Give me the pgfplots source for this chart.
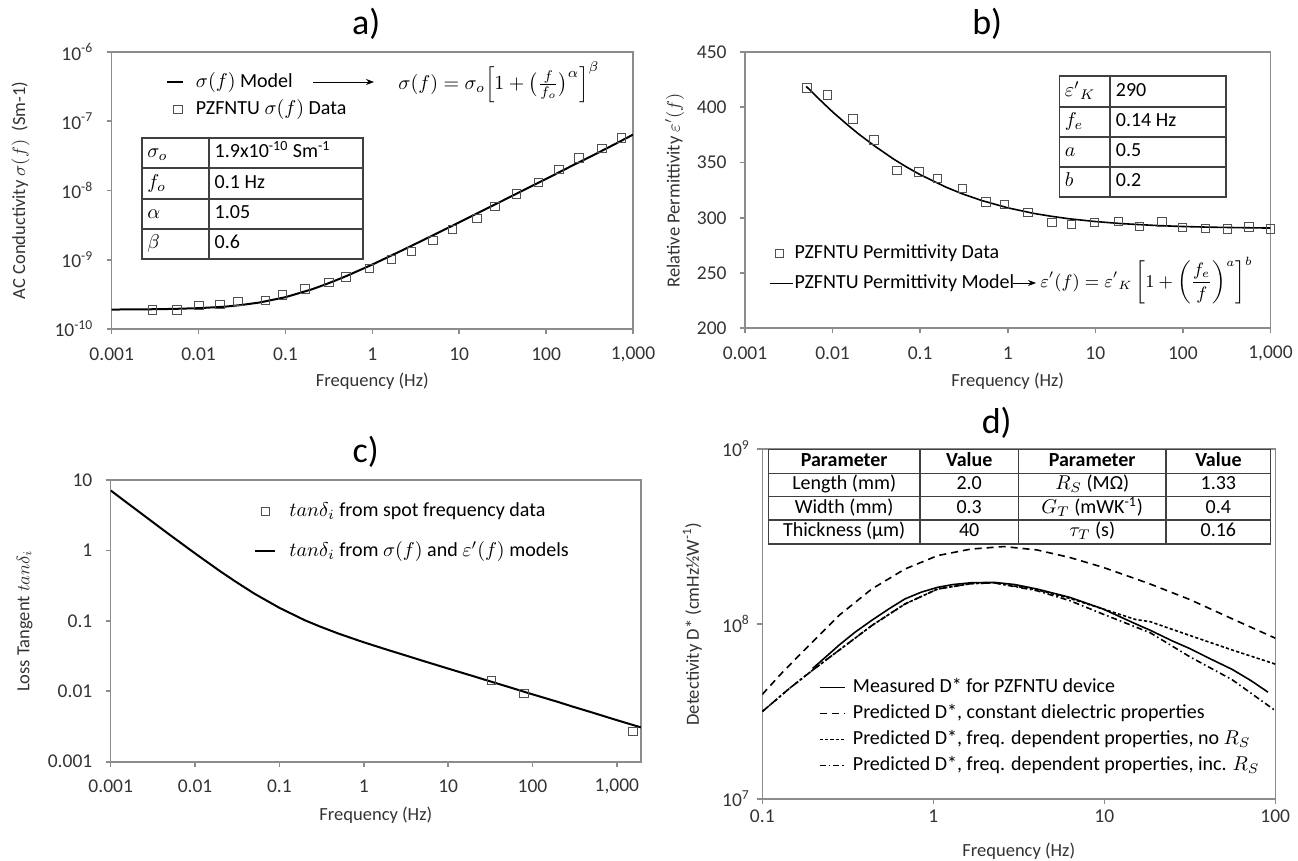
\documentclass[border=0pt]{standalone}
\usepackage{amsmath}
\usepackage{fontspec}
\setmainfont{Carlito}
\usepackage{pgfplots}
\pgfplotsset{compat=1.18}
\usetikzlibrary{arrows.meta}
\definecolor{axisgray}{HTML}{8C8C8C}
\definecolor{txt}{HTML}{333333}
\definecolor{tabline}{HTML}{404040}
\definecolor{mk}{HTML}{505050}
\pgfplotsset{
 excel/.style={
   scale only axis,
   axis line style={draw=axisgray, line width=0.8pt},
   tick style={draw=axisgray, line width=0.8pt},
   major tick length=2.5pt,
   tick align=outside,
   xtick pos=left, ytick pos=left,
   xminorticks=false, yminorticks=false,
   /pgf/number format/assume math mode=true,
   tick label style={font=\fontsize{9.75}{11}\selectfont, text=txt},
   label style={font=\fontsize{9.25}{11}\selectfont, text=txt},
   every axis title/.style={anchor=center, font=\fontsize{18}{20}\selectfont},
   xlabel style={anchor=center},
   ylabel style={anchor=center},
   legend style={draw=none, fill=none, inner sep=0pt, font=\fontsize{10}{12}\selectfont,
     nodes={inner sep=0pt, text height=7pt, text depth=2pt}, anchor=north west},
   legend cell align=left,
 },
 datamark/.style={only marks, mark=square, mark size=2.1pt, mark options={draw=mk, fill=none, line width=0.5pt, solid}},
 lineleg/.style 2 args={legend image code/.code={\draw[##1] (0pt,0pt) -- (#1,0pt); \path[draw=none,fill=none] (0pt,0pt) -- (#2,0pt);}},
 sqleg/.style 2 args={legend image code/.code={\path[draw=none,fill=none] (0pt,0pt) -- (#2,0pt); \draw[##1] plot coordinates {(#1,0pt)};}},
}
\begin{document}
\begin{tikzpicture}
\path[use as bounding box] (0pt,0pt) rectangle (649pt,-430.5pt);

% ---------------- a)
\begin{axis}[excel, at={(55.85pt,-164.5pt)}, anchor=south west, width=260.65pt, height=138.5pt,
 xticklabel style={anchor=center, yshift=-10pt},
 yticklabel style={anchor=east, inner sep=0pt, xshift=-6.5pt},
 xmode=log, ymode=log, xmin=0.001, xmax=1000, ymin=1e-10, ymax=1e-6,
 xtick={0.001,0.01,0.1,1,10,100,1000}, xticklabels={0.001,0.01,0.1,1,10,100,{1,000}},
 ytick={1e-10,1e-9,1e-8,1e-7,1e-6},
 yticklabels={10\textsuperscript{-10},10\textsuperscript{-9},10\textsuperscript{-8},10\textsuperscript{-7},10\textsuperscript{-6}},
 title={a)}, title style={at={(axis description cs:0.488,1.101)}},
 xlabel={Frequency (Hz)}, xlabel style={at={(axis description cs:0.5,-0.190)}},
 ylabel={AC Conductivity $\sigma(f)$\ \ (Sm-1)}, ylabel style={at={(axis description cs:-0.1746,0.5)}},
 legend style={at={(axis description cs:0.1032,0.9242)}, row sep=4.5pt},
]
\addplot[black, line width=1pt, lineleg={8.25pt}{14.5pt}] coordinates {
(0.001,1.91e-10) (0.002,1.92e-10) (0.003,1.93e-10) (0.005,1.95e-10) (0.01,2.0e-10) (0.02,2.10e-10) (0.03,2.21e-10) (0.05,2.41e-10) (0.1,2.88e-10) (0.2,3.73e-10) (0.3,4.48e-10) (0.5,5.80e-10) (1,8.53e-10) (2,1.29e-9) (3,1.65e-9) (5,2.26e-9) (10,3.47e-9) (20,5.36e-9) (30,6.9e-9) (50,9.53e-9) (100,1.47e-8) (200,2.29e-8) (300,2.94e-8) (500,4.07e-8) (1000,6.4e-8)};
\addlegendentry{$\sigma(f)$ Model}
\addplot[datamark, sqleg={5.6pt}{14.5pt}] coordinates {
(0.00293,1.87e-10) (0.00566,1.87e-10) (0.0101,2.2e-10) (0.0177,2.25e-10) (0.0283,2.49e-10) (0.059,2.6e-10) (0.0927,3.08e-10) (0.168,3.8e-10) (0.316,4.65e-10) (0.495,5.6e-10) (0.927,7.5e-10) (1.66,1.0e-9) (2.83,1.32e-9) (5.0,1.88e-9) (8.4,2.75e-9) (16.0,3.97e-9) (25.7,5.87e-9) (45.9,8.85e-9) (82,1.3e-8) (140,2.0e-8) (238,2.94e-8) (440,4.04e-8) (743,5.73e-8)};
\addlegendentry{PZFNTU $\sigma(f)$ Data}
\end{axis}

% ---------------- b)
\begin{axis}[excel, at={(372.5pt,-164.15pt)}, anchor=south west, width=262.75pt, height=138.15pt,
 xticklabel style={anchor=center, yshift=-10pt},
 yticklabel style={anchor=east, inner sep=0pt, xshift=-6.5pt},
 xmode=log, xmin=0.001, xmax=1000, ymin=200, ymax=450,
 xtick={0.001,0.01,0.1,1,10,100,1000}, xticklabels={0.001,0.01,0.1,1,10,100,{1,000}},
 ytick={200,250,300,350,400,450},
 title={b)}, title style={at={(axis description cs:0.461,1.101)}},
 xlabel={Frequency (Hz)}, xlabel style={at={(axis description cs:0.5,-0.190)}},
 ylabel={Relative Permittivity $\varepsilon'(f)$}, ylabel style={at={(axis description cs:-0.1338,0.5)}},
 legend style={at={(axis description cs:0.0451,0.305)}, row sep=6pt},
]
\addplot[datamark, sqleg={4.9pt}{12.3pt}] coordinates {
(0.00508,417.5) (0.00873,411.2) (0.0171,389.2) (0.0297,370.3) (0.0545,342.6) (0.0969,341.4) (0.158,335.4) (0.305,326.6) (0.566,314.3) (0.922,311.9) (1.71,305.0) (3.2,295.7) (5.34,293.9) (9.8,295.7) (18.5,296.9) (31.9,292.1) (57.9,296.3) (99.5,291.2) (181,290.5) (321,290.0) (570,291.8) (1000,290.0)};
\addlegendentry{PZFNTU Permittivity Data}
\addplot[black, line width=0.8pt, lineleg={11.3pt}{12.3pt}] coordinates {
(0.005,418.9) (0.007,407.5) (0.01,395.8) (0.015,383.7) (0.02,375.6) (0.03,365.1) (0.05,353.0) (0.07,345.9) (0.1,339.0) (0.2,327.5) (0.3,321.8) (0.5,315.7) (1,309.0) (2,303.9) (3,301.6) (5,299.1) (10,296.6) (20,294.7) (50,293.0) (100,292.1) (200,291.5) (500,291.0) (1000,290.7)};
\addlegendentry{PZFNTU Permittivity Model}
\end{axis}

% ---------------- c)
\begin{axis}[excel, at={(55.35pt,-380.85pt)}, anchor=south west, width=265.15pt, height=140.85pt,
 xticklabel style={anchor=center, yshift=-10pt},
 yticklabel style={anchor=east, inner sep=0pt, xshift=-6.5pt},
 xmode=log, ymode=log, xmin=0.001, xmax=1930, ymin=0.001, ymax=10,
 xtick={0.001,0.01,0.1,1,10,100,1000}, xticklabels={0.001,0.01,0.1,1,10,100,{1,000}},
 ytick={0.001,0.01,0.1,1,10}, yticklabels={0.001,0.01,0.1,1,10},
 title={c)}, title style={at={(axis description cs:0.481,1.099)}},
 xlabel={Frequency (Hz)}, xlabel style={at={(axis description cs:0.5,-0.189)}},
 ylabel={Loss Tangent $tan\delta_i$}, ylabel style={at={(axis description cs:-0.162,0.5)}},
 legend style={at={(axis description cs:0.2702,0.922)}, row sep=11pt},
]
\addplot[datamark, sqleg={5pt}{17pt}] coordinates {
(32.4,0.01416) (79.3,0.00935) (1556,0.00267)};
\addlegendentry{$tan\delta_i$ from spot frequency data}
\addplot[black, line width=1pt, lineleg={10pt}{17pt}] coordinates {
(0.001,7.1) (0.002,3.80) (0.003,2.64) (0.005,1.67) (0.01,0.908) (0.02,0.503) (0.03,0.363) (0.05,0.245) (0.1,0.153) (0.2,0.102) (0.3,0.0834) (0.5,0.066) (1,0.0496) (2,0.0381) (3,0.0328) (5,0.0271) (10,0.0210) (20,0.01635) (30,0.01407) (50,0.01169) (100,0.00905) (200,0.00706) (300,0.00605) (500,0.00503) (1000,0.00389) (1930,0.00307)};
\addlegendentry{$tan\delta_i$ from $\sigma(f)$ and $\varepsilon'(f)$ models}
\end{axis}

% ---------------- d)
\begin{axis}[excel, at={(381.15pt,-399.5pt)}, anchor=south west, width=256.5pt, height=175pt,
 xticklabel style={anchor=center, yshift=-6.35pt},
 yticklabel style={anchor=east, inner sep=0pt, xshift=-3.5pt},
 xmode=log, ymode=log, xmin=0.1, xmax=100, ymin=1e7, ymax=1e9,
 xtick={0.1,1,10,100}, xticklabels={0.1,1,10,100},
 ytick={1e7,1e8,1e9}, yticklabels={10\textsuperscript{7},10\textsuperscript{8},10\textsuperscript{9}},
 title={d)}, title style={at={(axis description cs:0.457,1.074)}},
 xlabel={Frequency (Hz)}, xlabel style={at={(axis description cs:0.5,-0.1506)}},
 ylabel={Detectivity D* (cmHz½W\textsuperscript{-1})}, ylabel style={at={(axis description cs:-0.1365,0.5)}},
 legend style={at={(axis description cs:0.1092,0.3457)}, row sep=4pt},
 lineleg={12.5pt}{16.7pt},
]
\addplot[black, line width=0.8pt] coordinates {
(0.197,5.57e7) (0.24,6.6e7) (0.281,7.57e7) (0.35,9.0e7) (0.437,1.05e8) (0.55,1.22e8) (0.682,1.39e8) (0.85,1.52e8) (1.06,1.62e8) (1.3,1.68e8) (1.66,1.72e8) (2.26,1.73e8) (3.0,1.68e8) (4.03,1.585e8) (6.28,1.42e8) (9.8,1.22e8) (15.3,1.0e8) (18.6,9.2e7) (25,8.0e7) (31.6,7.24e7) (42,6.3e7) (56,5.5e7) (72,4.75e7) (90.6,4.08e7)};
\addlegendentry{Measured D* for PZFNTU device}
\addplot[black, line width=0.8pt, dash pattern=on 3.5pt off 2.5pt] coordinates {
(0.1,3.96e7) (0.132,5.33e7) (0.18,7.24e7) (0.281,1.12e8) (0.437,1.585e8) (0.682,2.06e8) (1.06,2.46e8) (1.66,2.68e8) (2.58,2.77e8) (4.03,2.65e8) (6.28,2.40e8) (9.8,2.11e8) (15.3,1.81e8) (18.6,1.69e8) (31.6,1.38e8) (56,1.07e8) (100,8.3e7)};
\addlegendentry{Predicted D*, constant dielectric properties}
\addplot[black, line width=0.8pt, dash pattern=on 1.6pt off 1.1pt] coordinates {
(0.1,3.16e7) (0.144,4.28e7) (0.197,5.45e7) (0.281,7.08e7) (0.437,9.8e7) (0.682,1.30e8) (1.06,1.585e8) (1.66,1.70e8) (2.26,1.72e8) (4.03,1.57e8) (6.28,1.40e8) (9.8,1.22e8) (15.3,1.06e8) (18.6,1.03e8) (31.6,8.6e7) (56,7.1e7) (100,5.9e7)};
\addlegendentry{Predicted D*, freq. dependent properties, no $R_S$}
\addplot[black, line width=0.8pt, dash pattern=on 3pt off 1.5pt on 0.8pt off 1.5pt] coordinates {
(0.1,3.16e7) (0.144,4.28e7) (0.197,5.45e7) (0.281,7.08e7) (0.437,9.8e7) (0.682,1.30e8) (1.06,1.585e8) (1.66,1.70e8) (2.26,1.72e8) (4.03,1.55e8) (6.28,1.36e8) (9.8,1.14e8) (15.3,9.6e7) (18.6,8.9e7) (31.6,6.5e7) (56,4.8e7) (100,3.2e7)};
\addlegendentry{Predicted D*, freq. dependent properties, inc. $R_S$}
\end{axis}

% ---------------- annotations (pixel coordinates)
\begin{scope}[x=0.5pt,y=-0.5pt, font=\fontsize{10}{12}\selectfont]
 \draw[-{Stealth[length=4pt,width=3pt]}, line width=0.4pt, black] (313,82) -- (374,82);
 \node[anchor=west, inner sep=0pt, font=\fontsize{10}{12}\selectfont] at (398,82)
   {$\sigma(f) = \sigma_o\Bigl[1+\bigl(\tfrac{f}{f_o}\bigr)^{\alpha}\Bigr]^{\beta}$};
 \draw[tabline, line width=0.75pt] (141.9,138) rectangle (362.8,259);
 \foreach \yy in {168,199,229} {\draw[tabline, line width=0.75pt] (141.9,\yy) -- (362.8,\yy);}
 \draw[tabline, line width=0.75pt] (208.9,138) -- (208.9,259);
 \begin{scope}[every node/.style={anchor=west, inner sep=0pt, text height=7pt, text depth=2pt}]
 \node at (146.9,153) {$\sigma_o$};
 \node at (214.3,153) {1.9x10\textsuperscript{-10} Sm\textsuperscript{-1}};
 \node at (146.9,183.5) {$f_o$};
 \node at (214.3,183.5) {0.1 Hz};
 \node at (146.9,214) {$\alpha$};
 \node at (214.3,214) {1.05};
 \node at (146.9,244) {$\beta$};
 \node at (214.3,244) {0.6};
 \end{scope}
 \draw[-{Stealth[length=4pt,width=3pt]}, line width=0.4pt, black] (1013,283) -- (1036,283);
 \node[anchor=west, inner sep=0pt, font=\fontsize{8.8}{10}\selectfont] at (1040,281)
   {$\displaystyle \varepsilon'(f) = {\varepsilon'}_{K}\left[1+\left(\frac{f_e}{f}\right)^{a}\right]^{b}$};
 \draw[tabline, line width=0.75pt] (1059.5,76) rectangle (1226,197);
 \foreach \yy in {107,137,167} {\draw[tabline, line width=0.75pt] (1059.5,\yy) -- (1226,\yy);}
 \draw[tabline, line width=0.75pt] (1110,76) -- (1110,197);
 \begin{scope}[every node/.style={anchor=west, inner sep=0pt, text height=7pt, text depth=2pt}]
 \node at (1064.5,91.5) {${\varepsilon'}_{K}$};
 \node at (1115.5,91.5) {290};
 \node at (1064.5,122) {$f_e$};
 \node at (1115.5,122) {0.14 Hz};
 \node at (1064.5,152) {$a$};
 \node at (1115.5,152) {0.5};
 \node at (1064.5,182) {$b$};
 \node at (1115.5,182) {0.2};
 \end{scope}
 \draw[tabline, line width=0.75pt] (768.3,449.3) rectangle (1270.7,544);
 \foreach \yy in {473.3,496.7,520} {\draw[tabline, line width=0.75pt] (768.3,\yy) -- (1270.7,\yy);}
 \foreach \xx in {920,1018.3,1166} {\draw[tabline, line width=0.75pt] (\xx,449.3) -- (\xx,544);}
 \begin{scope}[every node/.style={anchor=center, inner sep=0pt, text height=7pt, text depth=2pt}]
 \node at (844.2,461.3) {\textbf{Parameter}};
 \node at (969.2,461.3) {\textbf{Value}};
 \node at (1092.2,461.3) {\textbf{Parameter}};
 \node at (1218.4,461.3) {\textbf{Value}};
 \node at (844.2,485) {Length (mm)};
 \node at (969.2,485) {2.0};
 \node at (1092.2,485) {$R_S$ (MΩ)};
 \node at (1218.4,485) {1.33};
 \node at (844.2,508.3) {Width (mm)};
 \node at (969.2,508.3) {0.3};
 \node at (1092.2,508.3) {$G_T$ (mWK\textsuperscript{-1})};
 \node at (1218.4,508.3) {0.4};
 \node at (844.2,532) {Thickness (μm)};
 \node at (969.2,532) {40};
 \node at (1092.2,532) {$\tau_T$ (s)};
 \node at (1218.4,532) {0.16};
 \end{scope}
\end{scope}
\end{tikzpicture}
\end{document}
